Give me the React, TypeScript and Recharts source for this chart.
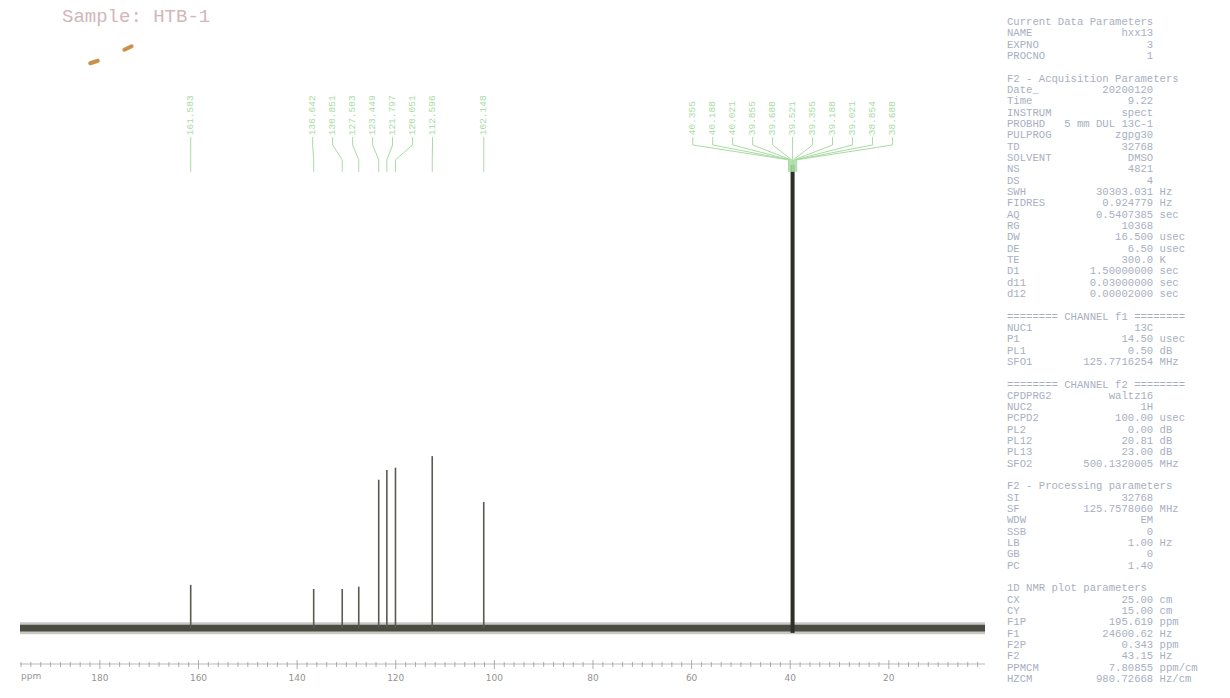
import React from 'react';
import { ComposedChart, Bar, Line, Scatter, XAxis, YAxis, ReferenceArea } from 'recharts';

// 13C spectrum, sample HTB-1 (DMSO-d6)
const PEAK_PPM = [161.58, 136.64, 130.85, 127.5, 123.45, 121.8, 120.05, 112.6, 102.15, 39.52];
const PEAK_HEIGHT = [9.3, 8.4, 8.4, 8.9, 32.0, 34.1, 34.6, 37.1, 27.2, 100];
const PEAK_SOLVENT = [false, false, false, false, false, false, false, false, false, true];

// picked peak list (green labels on top)
const PICKED_PPM = [
  161.583, 136.642, 130.851, 127.503, 123.449, 121.797, 120.051, 112.596, 102.148,
  40.355, 40.188, 40.021, 39.855, 39.688, 39.521, 39.355, 39.188, 39.021, 38.854, 38.688,
];

const MAJOR_TICKS = [180, 160, 140, 120, 100, 80, 60, 40, 20];

const PARAM_LINES: Array<[string, string?, string?]> = [
  ['Current Data Parameters'],
  ['NAME', 'hxx13'],
  ['EXPNO', '3'],
  ['PROCNO', '1'],
  [''],
  ['F2 - Acquisition Parameters'],
  ['Date_', '20200120'],
  ['Time', '9.22'],
  ['INSTRUM', 'spect'],
  ['PROBHD', '5 mm DUL 13C-1'],
  ['PULPROG', 'zgpg30'],
  ['TD', '32768'],
  ['SOLVENT', 'DMSO'],
  ['NS', '4821'],
  ['DS', '4'],
  ['SWH', '30303.031', 'Hz'],
  ['FIDRES', '0.924779', 'Hz'],
  ['AQ', '0.5407385', 'sec'],
  ['RG', '10368'],
  ['DW', '16.500', 'usec'],
  ['DE', '6.50', 'usec'],
  ['TE', '300.0', 'K'],
  ['D1', '1.50000000', 'sec'],
  ['d11', '0.03000000', 'sec'],
  ['d12', '0.00002000', 'sec'],
  [''],
  ['======== CHANNEL f1 ========'],
  ['NUC1', '13C'],
  ['P1', '14.50', 'usec'],
  ['PL1', '0.50', 'dB'],
  ['SFO1', '125.7716254', 'MHz'],
  [''],
  ['======== CHANNEL f2 ========'],
  ['CPDPRG2', 'waltz16'],
  ['NUC2', '1H'],
  ['PCPD2', '100.00', 'usec'],
  ['PL2', '0.00', 'dB'],
  ['PL12', '20.81', 'dB'],
  ['PL13', '23.00', 'dB'],
  ['SFO2', '500.1320005', 'MHz'],
  [''],
  ['F2 - Processing parameters'],
  ['SI', '32768'],
  ['SF', '125.7578060', 'MHz'],
  ['WDW', 'EM'],
  ['SSB', '0'],
  ['LB', '1.00', 'Hz'],
  ['GB', '0'],
  ['PC', '1.40'],
  [''],
  ['1D NMR plot parameters'],
  ['CX', '25.00', 'cm'],
  ['CY', '15.00', 'cm'],
  ['F1P', '195.619', 'ppm'],
  ['F1', '24600.62', 'Hz'],
  ['F2P', '0.343', 'ppm'],
  ['F2', '43.15', 'Hz'],
  ['PPMCM', '7.80855', 'ppm/cm'],
  ['HZCM', '980.72668', 'Hz/cm'],
];

const LABEL_STEP = 4.05;
const GREEN = '#a9dba4';

const peakRows = PEAK_PPM.map((x, i) => ({ x, y: PEAK_HEIGHT[i], solvent: PEAK_SOLVENT[i] }));

// spread labels of close peaks the way the plot program does
const spreadLabels = (list: number[]) => {
  const sorted = [...list].sort((a, b) => b - a);
  const groups: number[][] = [];
  sorted.forEach((p) => {
    const g = groups[groups.length - 1];
    if (g && g[g.length - 1] - p < 8) g.push(p);
    else groups.push([p]);
  });
  const out: { ppm: number; pos: number }[] = [];
  groups.forEach((g) => {
    const mean = g.reduce((s, v) => s + v, 0) / g.length;
    g.forEach((p, i) => out.push({ ppm: p, pos: mean + ((g.length - 1) / 2 - i) * LABEL_STEP }));
  });
  return out;
};

const labels = spreadLabels(PICKED_PPM);
const labelRows = labels.map((l) => ({ x: l.pos, y: 106.4, text: l.ppm.toFixed(3) }));

const axisTicks: number[] = [];
for (let v = 196; v >= 2; v -= 2) axisTicks.push(v);

const AxisTick = (props: any) => {
  const { x, y, payload } = props;
  const major = MAJOR_TICKS.includes(payload.value);
  return (
    <g>
      <line x1={x} x2={x} y1={y - (major ? 4 : 2)} y2={y + (major ? 5 : 3)} stroke="#9a9a9a" strokeWidth={0.8} />
      {major && (
        <text x={x} y={y + 17} textAnchor="middle" fontSize={9} fontFamily="DejaVu Sans" fill="#939393">
          {payload.value}
        </text>
      )}
    </g>
  );
};

const PeakShape = (props: any) => {
  const { x, y, width, height, payload } = props;
  const w = payload.solvent ? 4 : 1.6;
  const c = x + width / 2;
  return (
    <rect
      x={c - w / 2}
      y={y}
      width={w}
      height={height + (payload.solvent ? 5 : 0)}
      fill={payload.solvent ? '#2e2f29' : '#5a5a53'}
    />
  );
};

const LabelShape = (props: any) => {
  const { cx, cy, payload } = props;
  return (
    <text
      x={cx}
      y={cy}
      transform={`rotate(-90 ${cx} ${cy})`}
      fontSize={9.5}
      fontFamily="Liberation Mono"
      fill={GREEN}
      dominantBaseline="central"
    >
      {payload.text}
    </text>
  );
};

const pad = (s: string, n: number) => (s.length >= n ? s : s + ' '.repeat(n - s.length));
const padL = (s: string, n: number) => (s.length >= n ? s : ' '.repeat(n - s.length) + s);

const paramText = PARAM_LINES.map(([label, value, unit]) =>
  value === undefined ? label : pad(label, 8) + padL(value, 15) + (unit ? ' ' + unit : '')
).join('\n');

export default function App() {
  return (
    <div style={{ position: 'absolute', left: 0, top: 0, width: 1230, height: 698, background: '#fff', overflow: 'hidden' }}>
      <div
        style={{
          position: 'absolute',
          left: 62,
          top: 6,
          fontFamily: 'Liberation Mono',
          fontSize: 19,
          color: '#d2b6b9',
          whiteSpace: 'pre',
        }}
      >
        Sample: HTB-1
      </div>
      <div style={{ position: 'absolute', left: 88, top: 60, width: 12, height: 4, borderRadius: 3, background: '#c9924a', transform: 'rotate(-18deg)' }} />
      <div style={{ position: 'absolute', left: 122, top: 46, width: 12, height: 4, borderRadius: 3, background: '#c9924a', transform: 'rotate(-25deg)' }} />

      <div style={{ position: 'absolute', left: 0, top: 0 }}>
        <ComposedChart width={1000} height={698} data={peakRows} margin={{ top: 26, right: 15, bottom: 4, left: 20 }}>
          <XAxis
            type="number"
            dataKey="x"
            domain={[0.5, 196.2]}
            reversed
            allowDataOverflow
            ticks={axisTicks}
            interval={0}
            tick={<AxisTick />}
            tickLine={false}
            tickSize={0}
            tickMargin={0}
            height={30}
            axisLine={{ stroke: '#a8a8a8', strokeWidth: 0.8 }}
          />
          <YAxis type="number" dataKey="y" domain={[-7.8, 130]} allowDataOverflow hide />
          <ReferenceArea y1={-1.4} y2={1.2} fill="#4a4b3e" fillOpacity={0.3} stroke="none" ifOverflow="visible" />
          <ReferenceArea y1={-0.8} y2={0.7} fill="#3c3d32" fillOpacity={0.9} stroke="none" ifOverflow="visible" />
          <Bar dataKey="y" barSize={2} shape={<PeakShape />} isAnimationActive={false} />
          {labels.map((l, i) => (
            <Line
              key={`lead-${i}`}
              data={[
                { x: l.pos, y: 106.0 },
                { x: l.pos, y: 104.3 },
                { x: l.ppm, y: 101.1 },
                { x: l.ppm, y: 98.5 },
              ]}
              dataKey="y"
              type="linear"
              stroke={GREEN}
              strokeWidth={1}
              dot={false}
              activeDot={false}
              isAnimationActive={false}
            />
          ))}
          <Scatter data={labelRows} dataKey="y" shape={<LabelShape />} isAnimationActive={false} />
        </ComposedChart>
      </div>

      <div style={{ position: 'absolute', left: 21, top: 671, fontSize: 9, fontFamily: 'DejaVu Sans', color: '#939393' }}>ppm</div>

      <pre
        style={{
          position: 'absolute',
          left: 1007,
          top: 17,
          margin: 0,
          fontFamily: 'Liberation Mono',
          fontSize: 10.6,
          lineHeight: '11.33px',
          color: '#a8afbf',
        }}
      >
        {paramText}
      </pre>
    </div>
  );
}
